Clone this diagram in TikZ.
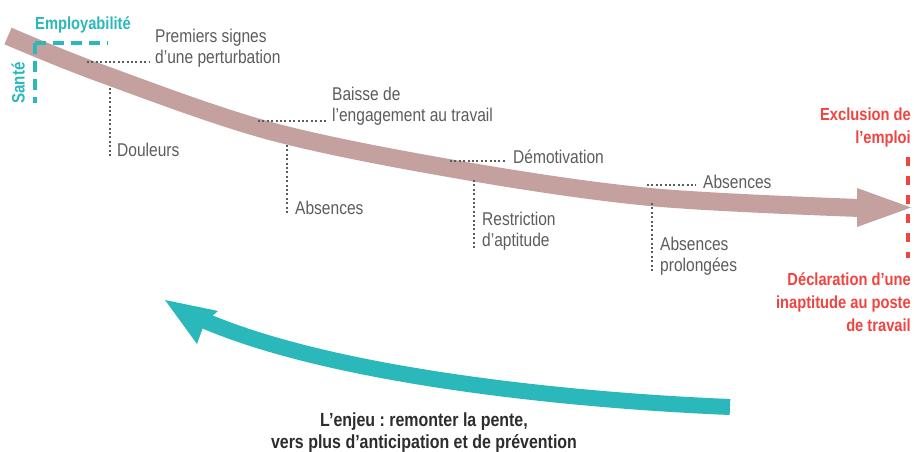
\documentclass[tikz,border=0pt]{standalone}
\usepackage{fontspec}
\setmainfont{Liberation Sans}[FakeStretch=0.84]
\frenchspacing
\definecolor{rose}{RGB}{196,160,159}
\definecolor{tealc}{RGB}{43,184,186}
\definecolor{redx}{RGB}{240,68,64}
\definecolor{greyt}{RGB}{92,92,92}
\definecolor{darkt}{RGB}{45,45,45}
\tikzset{
  lbl/.style={inner sep=0pt, text=greyt, align=left, font=\fontsize{18.5}{21.5}\selectfont},
  redlbl/.style={inner sep=0pt, text=redx, align=right, font=\bfseries\fontsize{17.5}{23}\selectfont},
  dotline/.style={greyt, line width=1.1pt, dash pattern=on 2pt off 2.4pt},
}
\begin{document}
\begin{tikzpicture}[x=1pt,y=-1pt]
\useasboundingbox (0,0) rectangle (914,452);
% main descending arrow
\draw[rose, line width=18pt] plot[smooth, tension=0.55] coordinates {(8,36) (100,73) (270,131) (460,170) (650,197) (860,208)};
\fill[rose] (857,188) -- (911,207.5) -- (857,227) -- cycle;
% teal return arrow
\draw[tealc, line width=16pt] (730,407) .. controls (560,400) and (330,375) .. (203,320);
\fill[tealc] (165,300) -- (218,311) -- (205,322) -- (197,344) -- cycle;
% employabilite / sante
\draw[tealc, line width=3.6pt, dash pattern=on 11pt off 7pt] (35,43) -- (108,43);
\draw[tealc, line width=3.6pt, dash pattern=on 11pt off 7pt] (35,43) -- (35,103);
\node[inner sep=0pt, text=tealc, font=\bfseries\fontsize{17.5}{18}\selectfont] (empl) at (83,25) {Employabilité};
\node[inner sep=0pt, text=tealc, font=\bfseries\fontsize{18}{18}\selectfont, rotate=90] (sante) at (18,83) {Santé};
% labels
\node[lbl, anchor=west] (prem) at (155,48) {Premiers signes\\d’une perturbation};
\node[lbl, anchor=west] (doul) at (117,150) {Douleurs};
\node[lbl, anchor=west] (baisse) at (332,106) {Baisse de\\l’engagement au travail};
\node[lbl, anchor=west] (abs1) at (295,208) {Absences};
\node[lbl, anchor=west] (demot) at (513,157) {Démotivation};
\node[lbl, anchor=west] (restr) at (482,231) {Restriction\\d’aptitude};
\node[lbl, anchor=west] (abs2) at (703,182) {Absences};
\node[lbl, anchor=west] (absp) at (660,256) {Absences\\prolongées};
\node[redlbl, anchor=east] (excl) at (911,127) {Exclusion de\\l’emploi};
\node[redlbl, anchor=east] (decl) at (911,302.5) {Déclaration d’une\\inaptitude au poste\\de travail};
\node[inner sep=0pt, text=darkt, align=center, font=\bfseries\fontsize{19}{22}\selectfont] (enjeu) at (424,433) {L’enjeu : remonter la pente,\\vers plus d’anticipation et de prévention};
% dotted leaders
\coordinate (c1) at (87,62);   \coordinate (e1) at (149,62);
\coordinate (c2) at (110,88);  \coordinate (e2) at (110,158);
\coordinate (c3) at (258,121); \coordinate (e3) at (326,121);
\coordinate (c4) at (287,145); \coordinate (e4) at (287,214);
\coordinate (c5) at (450,161); \coordinate (e5) at (507,161);
\coordinate (c6) at (474,180); \coordinate (e6) at (474,249);
\coordinate (c7) at (647,185); \coordinate (e7) at (696,185);
\coordinate (c8) at (652,203); \coordinate (e8) at (652,273);
\draw[dotline] (c1) -- (e1);
\draw[dotline] (c2) -- (e2);
\draw[dotline] (c3) -- (e3);
\draw[dotline] (c4) -- (e4);
\draw[dotline] (c5) -- (e5);
\draw[dotline] (c6) -- (e6);
\draw[dotline] (c7) -- (e7);
\draw[dotline] (c8) -- (e8);
% red dashed limit
\coordinate (r1) at (908,157); \coordinate (r2) at (908,258);
\draw[redx, line width=3.5pt, dash pattern=on 9pt off 10pt] (r1) -- (r2);
\end{tikzpicture}
\end{document}
